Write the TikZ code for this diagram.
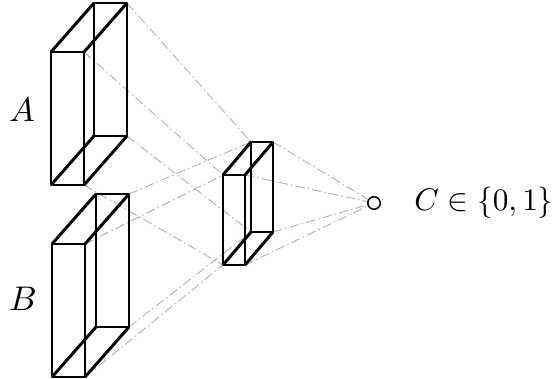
\documentclass[tikz,border=0pt]{standalone}
\usepackage{amsmath,amssymb}
\usepackage{tikz}
\usetikzlibrary{positioning}

% slab: name, x, y of front top left, width, height, depth dx, dy
\newcommand{\slab}[7]{%
  \coordinate (#1-ft-l) at (#2,#3);
  \coordinate (#1-ft-r) at (#2+#4,#3);
  \coordinate (#1-fb-r) at (#2+#4,#3+#5);
  \coordinate (#1-fb-l) at (#2,#3+#5);
  \coordinate (#1-bt-l) at (#2+#6,#3+#7);
  \coordinate (#1-bt-r) at (#2+#4+#6,#3+#7);
  \coordinate (#1-bb-r) at (#2+#4+#6,#3+#5+#7);
  \coordinate (#1-bb-l) at (#2+#6,#3+#5+#7);
}

\begin{document}
\begin{tikzpicture}[x=0.32pt,y=-0.32pt,
    slabline/.style={draw=black,line width=0.95pt,line join=round},
    ray/.style={draw=black!30,line width=0.3pt,dash pattern=on 3pt off 1pt on 0.5pt off 1pt},
    unit/.style={draw=black,circle,line width=0.5pt,minimum size=4pt,inner sep=0pt},
    lbl/.style={font=\fontsize{10.5}{12}\selectfont}]
\useasboundingbox (0,0) rectangle (556,379);

\slab{A}{51}{52}{33}{133}{43}{-49}
\slab{B}{52}{244}{33}{133}{44}{-50}
\slab{M}{223}{175}{22}{90}{28}{-33}

\node[unit] (out) at (374,203) {};
\node[inner sep=0pt,right=10.5pt of out] (outlabel) {$C\in\{0,1\}$};
\node[lbl] (alabel) at (22,110) {$A$};
\node[lbl] (blabel) at (23,299) {$B$};

% receptive field lines
\foreach \c in {ft,bt,bb,fb} {
  \draw[ray] (A-\c-r) -- (M-\c-l);
  \draw[ray] (B-\c-r) -- (M-\c-l);
  \draw[ray] (M-\c-r) -- (out);
}

% the three blocks
\foreach \s in {A,B,M} {
  \draw[slabline] (\s-ft-l) -- (\s-ft-r) -- (\s-fb-r) -- (\s-fb-l) -- cycle;
  \draw[slabline] (\s-bt-l) -- (\s-bt-r) -- (\s-bb-r) -- (\s-bb-l) -- cycle;
  \draw[slabline] (\s-ft-l) -- (\s-bt-l) (\s-ft-r) -- (\s-bt-r)
                  (\s-fb-r) -- (\s-bb-r) (\s-fb-l) -- (\s-bb-l);
}
\end{tikzpicture}
\end{document}
